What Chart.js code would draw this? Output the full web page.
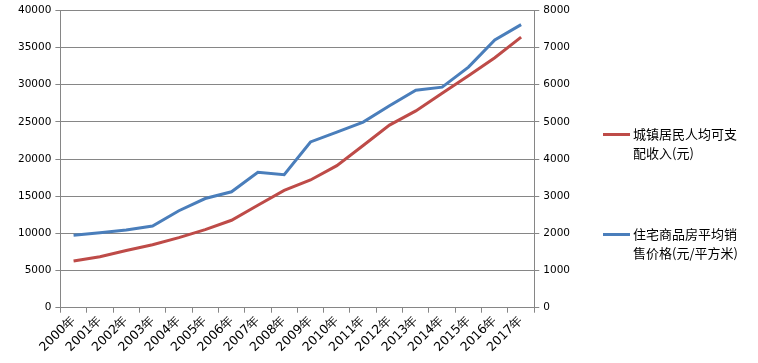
<!DOCTYPE html>
<html>
	<head>
		<meta charset="utf-8" />
		<title>城镇居民收入与房价</title>
		<script src="https://cdn.jsdelivr.net/npm/chart.js"></script>
		<style>
			html,
			body {
				margin: 0;
				padding: 0;
				background: #fff;
			}
			.chart-container {
				position: relative;
				width: 758px;
				height: 363px;
			}
			.legend {
				position: absolute;
				left: 603px;
				font-family: "Noto Sans CJK SC", sans-serif;
				font-size: 13px;
				line-height: 19px;
				color: #000;
			}
			.legend .swatch {
				position: absolute;
				left: 0;
				top: 9px;
				width: 27px;
				height: 3px;
			}
			.legend .text {
				margin-left: 30px;
				width: 115px;
			}
		</style>
	</head>
	<body>
		<div class="chart-container">
			<canvas id="priceChart"></canvas>
			<div class="legend" id="legendIncome" style="top: 124px">
				<div class="swatch" style="background: #be4b48"></div>
				<div class="text">城镇居民人均可支<br />配收入(元)</div>
			</div>
			<div class="legend" id="legendPrice" style="top: 224px">
				<div class="swatch" style="background: #4a7ebb"></div>
				<div class="text">住宅商品房平均销<br />售价格(元/平方米)</div>
			</div>
		</div>

		<script>
			const years = [
				"2000年", "2001年", "2002年", "2003年", "2004年", "2005年",
				"2006年", "2007年", "2008年", "2009年", "2010年", "2011年",
				"2012年", "2013年", "2014年", "2015年", "2016年", "2017年",
			];
			// 城镇居民人均可支配收入 (left axis)
			const income = [
				6280, 6860, 7703, 8472, 9422, 10493, 11759, 13786, 15781,
				17175, 19109, 21810, 24565, 26467, 28844, 31195, 33616, 36396,
			];
			// 住宅商品房平均销售价格 (right axis)
			const housePrice = [
				1948, 2017, 2092, 2197, 2608, 2937, 3119, 3645, 3576,
				4459, 4725, 4993, 5430, 5850, 5933, 6472, 7203, 7614,
			];

			const axisColor = "#868686";
			const tickFont = { family: "DejaVu Sans", size: 10.5 };
			const plainNumber = (value) => String(value);

			const ctx = document.getElementById("priceChart").getContext("2d");
			const chart = new Chart(ctx, {
				type: "line",
				data: {
					labels: years,
					datasets: [
						{
							label: "城镇居民人均可支配收入(元)",
							data: income,
							borderColor: "#be4b48",
							backgroundColor: "#be4b48",
							borderWidth: 3,
							pointRadius: 0,
							tension: 0,
							yAxisID: "y",
						},
						{
							label: "住宅商品房平均销售价格(元/平方米)",
							data: housePrice,
							borderColor: "#4a7ebb",
							backgroundColor: "#4a7ebb",
							borderWidth: 3,
							pointRadius: 0,
							tension: 0,
							yAxisID: "y1",
						},
					],
				},
				options: {
					responsive: true,
					maintainAspectRatio: false,
					animation: false,
					layout: {
						padding: { left: 14, right: 184, top: 6, bottom: 8 },
					},
					plugins: {
						legend: { display: false },
						tooltip: { enabled: false },
					},
					scales: {
						x: {
							offset: true,
							grid: {
								offset: true,
								drawOnChartArea: false,
								drawTicks: true,
								tickLength: 5,
								color: axisColor,
							},
							border: { display: true, color: axisColor },
							ticks: {
								font: { family: "DejaVu Sans", size: 12.5 },
								color: "#000",
								minRotation: 45,
								maxRotation: 45,
								padding: 0,
							},
						},
						y: {
							position: "left",
							min: 0,
							max: 40000,
							ticks: {
								stepSize: 5000,
								font: tickFont,
								color: "#000",
								padding: 4,
								callback: plainNumber,
							},
							grid: { color: axisColor, tickLength: 5 },
							border: { display: true, color: axisColor },
						},
						y1: {
							position: "right",
							min: 0,
							max: 8000,
							ticks: {
								stepSize: 1000,
								font: tickFont,
								color: "#000",
								padding: 4,
								callback: plainNumber,
							},
							grid: {
								drawOnChartArea: false,
								color: axisColor,
								tickLength: 5,
							},
							border: { display: true, color: axisColor },
						},
					},
				},
			});
		</script>
	</body>
</html>
